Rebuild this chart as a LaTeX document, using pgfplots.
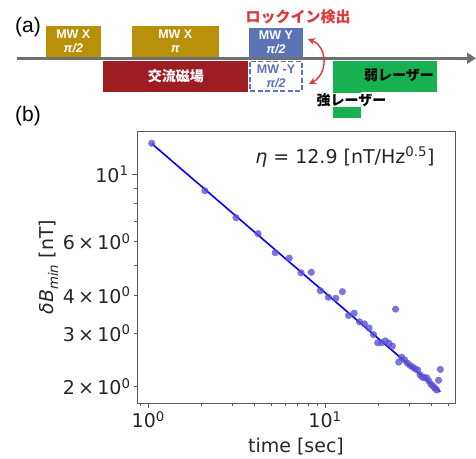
\documentclass[border=0pt]{standalone}
\usepackage{fontspec}
\setmainfont{DejaVu Sans}
\newfontfamily\arialf{Liberation Sans}
\newfontfamily\cjk{Noto Sans CJK JP}
\usepackage{pgfplots}
\pgfplotsset{compat=1.18}
\usetikzlibrary{arrows.meta}
\definecolor{mwgold}{HTML}{B8900A}
\definecolor{acred}{HTML}{9E1D22}
\definecolor{mwblue}{HTML}{5B73B7}
\definecolor{lasgreen}{HTML}{17B14F}
\definecolor{lockred}{HTML}{E0383A}
\definecolor{arrgray}{HTML}{707070}
\definecolor{ptcol}{HTML}{5A4FD0}
\newcommand\fs[1]{\fontsize{#1}{#1}\selectfont}
\begin{document}
\begin{tikzpicture}
\begin{scope}[x=1pt,y=-1pt]
\path[use as bounding box] (0,0) rectangle (476,454);
% panel labels
\node[font=\arialf\fs{21}] at (28,27) {(a)};
\node[font=\arialf\fs{21}] at (28,116) {(b)};
% time axis arrow
\draw[arrgray, line width=3.3pt, -{Triangle[length=9pt,width=11pt]}] (17,58.3) -- (476,58.3);
% MW X pi/2
\fill[mwgold] (46,26) rectangle (100.7,56.7);
\node[white, align=center, font=\arialf\bfseries\fs{12.5}] at (73.3,41.5) {MW X\\[2pt]\textit{π/2}};
% MW X pi
\fill[mwgold] (131.7,26) rectangle (219,56.7);
\node[white, align=center, font=\arialf\bfseries\fs{12.5}] at (175.3,41.5) {MW X\\[2pt]\textit{π}};
% AC field
\fill[acred] (103.3,61) rectangle (248.3,91.7);
\node[white, font=\cjk\bfseries\fs{14}] at (175.8,76.3) {交流磁場};
% MW Y pi/2
\fill[mwblue] (249.3,28.3) rectangle (302.7,56.7);
\node[white, align=center, font=\arialf\bfseries\fs{12.5}] at (276,42.5) {MW Y\\[2pt]\textit{π/2}};
% MW -Y pi/2 dashed
\draw[mwblue, line width=1.3pt, dash pattern=on 5pt off 2.5pt, fill=white] (249.9,61.6) rectangle (302.1,91.1);
\node[mwblue, align=center, font=\arialf\bfseries\fs{12.5}] at (276,76.3) {MW -Y\\[2pt]\textit{π/2}};
% lock-in label
\node[lockred, font=\cjk\bfseries\fs{15}] at (298,17) {ロックイン検出};
\draw[lockred, line width=1.4pt, {Stealth[length=7pt,width=7pt]}-{Stealth[length=7pt,width=7pt]}] (308,39) .. controls (328,47) and (328,74) .. (309,84);
% lasers
\fill[lasgreen] (333.3,61) rectangle (360.7,118.3);
\fill[lasgreen] (360.7,61) rectangle (436.7,91.7);
\node[black, font=\cjk\bfseries\fs{14}] at (399,75) {弱レーザー};
\node[black, fill=white, inner sep=0.6pt, font=\cjk\bfseries\fs{14}] at (351.5,100) {強レーザー};
\end{scope}
\begin{axis}[
  at={(137pt,-403pt)}, anchor=south west,
  scale only axis, width=318pt, height=272pt,
  xmode=log, ymode=log,
  xmin=0.863, xmax=54.4, ymin=1.768, ymax=13.88,
  axis line style={black!65, line width=0.8pt},
  tick align=outside, xtick pos=bottom, ytick pos=left,
  tick style={black!65, line width=0.7pt},
  major tick length=5pt, minor tick length=3pt,
  xtick={1,10}, xticklabels={10\textsuperscript{0},10\textsuperscript{1}},
  minor xtick={0.9,2,3,4,5,6,7,8,9,20,30,40,50},
  ytick={10}, yticklabels={10\textsuperscript{1}},
  extra y ticks={2,3,4,6},
  extra y tick labels={2\,×\,10\textsuperscript{0},3\,×\,10\textsuperscript{0},4\,×\,10\textsuperscript{0},6\,×\,10\textsuperscript{0}},
  extra y tick style={major tick length=3pt},
  minor ytick={5,7,8,9},
  tick label style={font=\fs{19}, text=black!85},
  label style={font=\fs{19}, text=black!85},
  xlabel={time [sec]},
  xlabel style={yshift=-3pt},
  ylabel={{\itshape δB\textsubscript{min}} [nT]},
  ylabel style={yshift=-7pt},
  clip=false,
]
\addplot[only marks, mark=*, mark size=3.6pt, color=ptcol, fill opacity=0.78, draw opacity=0] table {
x y
1.045 12.65
2.09 8.83
3.135 7.20
4.18 6.38
5.225 5.52
6.27 5.30
7.315 4.74
8.36 4.76
9.405 4.14
10.45 3.94
11.50 3.91
12.54 4.11
13.59 3.43
14.63 3.49
15.68 3.27
16.72 3.22
17.77 3.12
18.81 2.97
19.86 2.79
20.90 2.79
21.95 2.83
22.99 2.78
24.04 2.72
25.08 3.60
26.13 2.41
27.17 2.50
28.22 2.45
29.26 2.39
30.30 2.35
31.35 2.32
32.40 2.29
33.44 2.27
34.49 2.19
35.53 2.15
36.58 2.14
37.62 2.14
38.67 2.09
39.71 2.04
40.76 2.01
41.80 1.98
42.85 1.95
43.89 2.10
44.94 2.28
};
\addplot[blue, line width=1.6pt] coordinates {(1.045,12.62) (44.9,1.925)};
\node[anchor=east, font=\fs{19}, text=black!85] at (rel axis cs:0.9465,0.904) {{\itshape η} = 12.9 [nT/Hz\textsuperscript{0.5}]};
\end{axis}
\end{tikzpicture}
\end{document}
